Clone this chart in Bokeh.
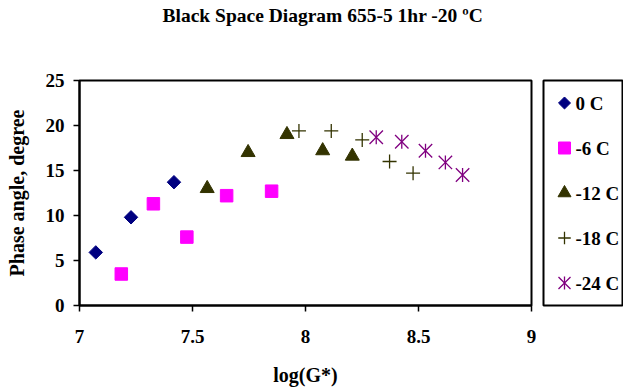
import math
from bokeh.plotting import figure
from bokeh.layouts import row
from bokeh.models import Title, FixedTicker, Range1d
from bokeh.core.properties import value
from bokeh.embed import file_html
from bokeh.resources import INLINE

# Data
x_0c = [7.072, 7.228, 7.418]
y_0c = [5.9, 9.8, 13.7]
x_6c = [7.185, 7.327, 7.475, 7.651, 7.850]
y_6c = [3.5, 11.3, 7.6, 12.2, 12.7]
x_12c = [7.565, 7.746, 7.918, 8.076, 8.207]
y_12c = [13.0, 17.0, 19.0, 17.2, 16.6]
x_18c = [7.971, 8.114, 8.251, 8.372, 8.476]
y_18c = [19.4, 19.4, 18.4, 16.0, 14.7]
x_24c = [8.313, 8.426, 8.531, 8.619, 8.695]
y_24c = [18.7, 18.2, 17.2, 15.9, 14.5]
x_ticks = [7, 7.5, 8, 8.5, 9]
y_ticks = [0, 5, 10, 15, 20, 25]
series_labels = ["0 C", "-6 C", "-12 C", "-18 C", "-24 C"]

FONT = "Liberation Serif"

p = figure(width=536, height=391, output_backend="svg", toolbar_location=None,
           x_range=Range1d(7, 9), y_range=Range1d(0, 25),
           min_border_left=79, min_border_right=5, min_border_top=0, min_border_bottom=86)

# spacer (closest to the frame) then the real title on top
p.add_layout(Title(text=" ", text_font_size="1px", standoff=46), "above")
p.add_layout(Title(text="Black Space Diagram 655-5 1hr -20 \u00baC", align="left",
                   vertical_align="top",
                   text_font=FONT, text_font_size="19.5px", text_font_style="bold",
                   text_color="black", offset=83, standoff=8), "above")

p.grid.visible = False
p.outline_line_color = "black"
p.outline_line_width = 2
p.background_fill_color = "white"
p.border_fill_color = "white"

for ax in (p.xaxis[0], p.yaxis[0]):
    ax.axis_line_color = "black"
    ax.axis_line_width = 2
    ax.major_tick_line_color = "black"
    ax.major_tick_line_width = 1.5
    ax.major_tick_in = 0
    ax.major_tick_out = 6
    ax.minor_tick_line_color = None
    ax.major_label_text_font = FONT
    ax.major_label_text_font_size = "19px"
    ax.major_label_text_font_style = "bold"
    ax.major_label_text_color = "black"
    ax.axis_label_text_font = FONT
    ax.axis_label_text_font_size = "20px"
    ax.axis_label_text_font_style = "bold"
    ax.axis_label_text_color = "black"

p.xaxis.ticker = FixedTicker(ticks=x_ticks)
p.yaxis.ticker = FixedTicker(ticks=y_ticks)
p.xaxis.major_label_overrides = {7: "7", 7.5: "7.5", 8: "8", 8.5: "8.5", 9: "9"}
p.xaxis.axis_label = "log(G*)"
p.yaxis.axis_label = "Phase angle, degree"
p.xaxis.major_label_standoff = 18
p.yaxis.major_label_standoff = 9
p.xaxis.axis_label_standoff = 18
p.yaxis.axis_label_standoff = 15

# marker styles per series (each a list of layered markers: (style, plot size, legend size))
styles = [
    [(dict(marker="square", angle=math.pi / 4, fill_color="#000080", line_color="#000080"), 9.5, 8.5)],
    [(dict(marker="square", fill_color="#ff00ff", line_color="#ff00ff"), 12.5, 12)],
    [(dict(marker="triangle", fill_color="#333300", line_color="#333300"), 14, 13)],
    [(dict(marker="cross", line_color="#333300", line_width=1.3), 14, 12.5)],
    [(dict(marker="x", line_color="#800080", line_width=1.3), 19, 17),
     (dict(marker="dash", angle=math.pi / 2, line_color="#800080", line_width=1.3), 14, 13)],
]
xs = [x_0c, x_6c, x_12c, x_18c, x_24c]
ys = [y_0c, y_6c, y_12c, y_18c, y_24c]

for x, y, layers in zip(xs, ys, styles):
    for st, sz, _ in layers:
        p.scatter(x, y, size=sz, **st)

# legend panel as its own small figure
lg = figure(width=87, height=391, output_backend="svg", toolbar_location=None,
            x_range=Range1d(0, 80), y_range=Range1d(5, 0),
            x_axis_location=None, y_axis_location=None,
            min_border_left=7, min_border_right=0, min_border_top=80, min_border_bottom=81)
lg.grid.visible = False
lg.outline_line_color = "black"
lg.outline_line_width = 2
lg.background_fill_color = "white"
lg.border_fill_color = "white"

leg_y = [i + 0.5 for i in range(len(series_labels))]
for yy, layers in zip(leg_y, styles):
    for st, _, lsz in layers:
        lg.scatter([21], [yy], size=lsz, **st)
lg.text(x=[32] * len(series_labels), y=leg_y, text=series_labels,
        text_font=value(FONT), text_font_size="19px", text_font_style="bold",
        text_color="black", text_baseline="middle", text_align="left")

layout = row(p, lg, spacing=0)
open("out.html", "w").write(file_html(layout, INLINE))
